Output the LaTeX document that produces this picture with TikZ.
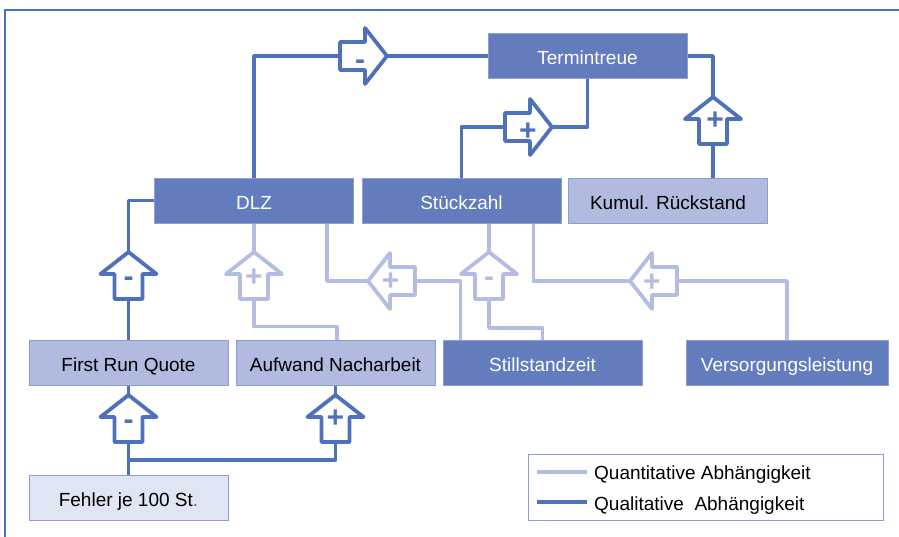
\documentclass[tikz,border=0pt]{standalone}
\usepackage{fontspec}
\setmainfont{Liberation Sans}
\pgfdeclarelayer{background}
\pgfsetlayers{background,main}
\definecolor{dkfill}{HTML}{637CBE}
\definecolor{dkborder}{HTML}{8C9ED3}
\definecolor{ltfill}{HTML}{B1BBE0}
\definecolor{ltborder}{HTML}{8A9DD5}
\definecolor{vlfill}{HTML}{E0E5F3}
\definecolor{qual}{HTML}{4F71B9}
\definecolor{quant}{HTML}{B3BDE1}
\definecolor{framecol}{HTML}{4A70BA}
\begin{document}
\begin{tikzpicture}[x=1pt,y=-1pt, font=\fontsize{19}{23}\selectfont,
 box/.style={minimum width=199pt, minimum height=45pt, inner sep=0pt, line width=1pt, text height=17.5pt, text depth=0pt},
 dkbox/.style={box, fill=dkfill, draw=dkborder, text=white},
 ltbox/.style={box, fill=ltfill, draw=ltborder, text=black},
 vlbox/.style={box, fill=vlfill, draw=ltborder, text=black},
 qline/.style={draw=qual, line width=3.8pt, line join=round},
 nline/.style={draw=quant, line width=3.8pt, line join=round},
 pics/barrow/.style n args={3}{code={
   \draw[draw=#1, fill=white, line width=3.8pt, line join=round] (0,0) -- (-22,28) -- (-22,14) -- (-47,14) -- (-47,-14) -- (-22,-14) -- (-22,-28) -- cycle;
   \coordinate (-tip) at (0,0);
   \coordinate (-tail) at (-47,0);
   \node[text=#1, font=\bfseries\fontsize{30}{30}\selectfont, inner sep=0pt, anchor=base] at (#3) {#2};
 }}]
\useasboundingbox (0,0) rectangle (899,536);
% frame
\draw[framecol, line width=1.5pt] (5,540) -- (5,10) -- (905,10);

% boxes
\node[dkbox] (term) at (587.5,56) {Termintreue};
\node[dkbox] (dlz) at (254,200.5) {DLZ};
\node[dkbox] (stk) at (461.5,200.5) {Stückzahl};
\node[ltbox] (kum) at (668,200.5) {Kumul. Rückstand};
\node[ltbox] (frq) at (128.5,362.5) {First Run Quote};
\node[ltbox] (auf) at (335.5,362.5) {Aufwand Nacharbeit};
\node[dkbox] (still) at (542.5,362.5) {Stillstandzeit};
\node[dkbox, minimum width=202pt] (vers) at (787,362.5) {Versorgungsleistung};
\node[vlbox] (fehler) at (128.5,497.5) {Fehler je 100 St{\color{qual}.}};

% arrows
\pic (a1) at (387,56) {barrow={qual}{-}{-27,13.5}};
\pic (a2) at (552,127) {barrow={qual}{+}{-24,13.5}};
\pic[rotate=90] (a3) at (713,97) {barrow={qual}{+}{-32.5,2}};
\pic[rotate=90] (a4) at (128.5,252) {barrow={qual}{-}{-34.5,0}};
\pic[rotate=90] (a5) at (128.5,395) {barrow={qual}{-}{-34.5,0}};
\pic[rotate=90] (a6) at (335.5,395) {barrow={qual}{+}{-32.5,0}};
\pic[rotate=90] (a7) at (254,252) {barrow={quant}{+}{-34,0}};
\pic[rotate=180] (a8) at (368,281) {barrow={quant}{+}{-22.7,-9.5}};
\pic[rotate=90] (a9) at (489,252) {barrow={quant}{-}{-34.5,0}};
\pic[rotate=180] (a10) at (630,281) {barrow={quant}{+}{-22,-10.5}};

\coordinate (j1) at (128.5,460);

\begin{pgfonlayer}{background}
% qualitative
\draw[qline] (dlz.north) |- (a1-tail);
\draw[qline] (a1-tip) -- (term.west);
\draw[qline] (stk.north) |- (a2-tail);
\draw[qline] (a2-tip) -| (term.south);
\draw[qline] (a3-tail |- kum.north) -- (a3-tail);
\draw[qline] (a3-tip) |- (term.east);
\draw[qline] (frq.north) -- (a4-tail);
\draw[qline] (a4-tip) |- (dlz.west);
\draw[qline] (fehler.north) -- (a5-tail);
\draw[qline] (a5-tip) -- (frq.south);
\draw[qline] (j1) -| (a6-tail);
\draw[qline] (a6-tip) -- (auf.south);
% quantitative
\draw[nline] ([xshift=1.5pt]auf.north) -- ++(0,-13) -| (a7-tail);
\draw[nline] (a7-tip) -- (dlz.south);
\draw[nline] ([xshift=-27pt]dlz.south east) |- (a8-tip);
\draw[nline] (a8-tail) -| ([xshift=18pt]still.north west);
\draw[nline] (a9-tip) -- (a9-tip |- stk.south);
\draw[nline] (a9-tail) -- ++(0,29) -| (still.north);
\draw[nline] ([xshift=-28pt]stk.south east) |- (a10-tip);
\draw[nline] (a10-tail) -| (vers.north);
\end{pgfonlayer}

% legend
\node[draw=ltborder, fill=white, line width=1pt, minimum width=355pt, minimum height=66pt, inner sep=0pt] (leg) at (705.5,487) {};
\coordinate (l1a) at (537,472);
\coordinate (l1b) at (587,472);
\coordinate (l2a) at (537,502);
\coordinate (l2b) at (587,502);
\draw[nline] (l1a) -- (l1b);
\draw[qline] (l2a) -- (l2b);
\node[anchor=base west, inner sep=0pt] (lt1) at (594,479) {Quantitative Abhängigkeit};
\node[anchor=base west, inner sep=0pt] (lt2) at (594,510) {Qualitative\ \ Abhängigkeit};
\end{tikzpicture}
\end{document}
